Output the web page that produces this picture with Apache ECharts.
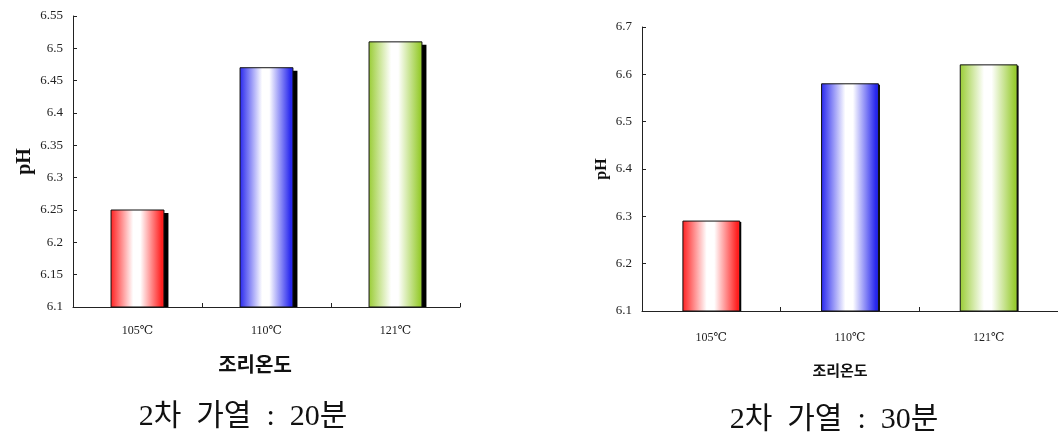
<!DOCTYPE html>
<html>
<head>
<meta charset="utf-8">
<script src="https://cdn.jsdelivr.net/npm/echarts@6/dist/echarts.min.js"></script>
<style>
  html, body { margin: 0; padding: 0; background: #fff; }
  #chart { width: 1058px; height: 436px; }
</style>
</head>
<body>
<div id="chart"></div>
<script>
// Cooking temperatures on the category axis
const categories = ['105℃', '110℃', '121℃'];

// pH after the second heating step
const ph20min = [6.25, 6.47, 6.51];
const ph30min = [6.29, 6.58, 6.62];

// Value-axis ranges for each panel
const axis20 = { min: 6.1, max: 6.55, interval: 0.05 };
const axis30 = { min: 6.1, max: 6.7, interval: 0.1 };

const panelTitles = ['2차  가열  :  20분', '2차  가열  :  30분'];
const xAxisName = '조리온도';
const yAxisName = 'pH';

const barColors = ['#ff1f1f', '#2626ee', '#99cc33'];

function gradient(c) {
  return new echarts.graphic.LinearGradient(0, 0, 1, 0, [
    { offset: 0, color: c },
    { offset: 0.42, color: '#ffffff' },
    { offset: 0.55, color: '#ffffff' },
    { offset: 0.95, color: c },
    { offset: 1, color: c }
  ]);
}

// Gradient bar with a hard black drop shadow on its right side
function makeRenderer(axisMin, shadowX, shadowY) {
  return function (params, api) {
    const idx = api.value(0);
    const top = api.coord([idx, api.value(1)]);
    const base = api.coord([idx, axisMin]);
    const bw = api.size([1, 0])[0] * 0.41;
    const x0 = top[0] - bw / 2;
    const h = base[1] - top[1];
    return {
      type: 'group',
      children: [
        {
          type: 'rect',
          shape: { x: x0 + shadowX, y: top[1] + shadowY, width: bw, height: h - shadowY },
          style: { fill: '#000' }
        },
        {
          type: 'rect',
          shape: { x: x0, y: top[1], width: bw, height: h },
          style: { fill: gradient(barColors[idx]), stroke: '#111', lineWidth: 1 }
        }
      ]
    };
  };
}

const serif = '"Liberation Serif", "DejaVu Serif", serif';
const koSerifish = '"Liberation Serif", "Noto Sans CJK KR", serif';
const axisLine = { show: true, lineStyle: { color: '#222', width: 1 } };
const tick = { show: true, inside: true, length: 4, lineStyle: { color: '#222' } };

const chart = echarts.init(document.getElementById('chart'), null, { renderer: 'canvas' });

chart.setOption({
  animation: false,
  backgroundColor: '#fff',
  title: [
    {
      text: panelTitles[0], left: 238, top: 397, textAlign: 'center',
      textStyle: { fontFamily: koSerifish, fontSize: 30, fontWeight: 'normal', color: '#111' }
    },
    {
      text: panelTitles[1], left: 829, top: 400, textAlign: 'center',
      textStyle: { fontFamily: koSerifish, fontSize: 30, fontWeight: 'normal', color: '#111' }
    },
    {
      text: xAxisName, left: 250, top: 349, textAlign: 'center',
      textStyle: { fontFamily: '"Noto Sans CJK KR", sans-serif', fontSize: 20, fontWeight: 'bold', color: '#111' }
    },
    {
      text: xAxisName, left: 835, top: 358, textAlign: 'center',
      textStyle: { fontFamily: '"Noto Sans CJK KR", sans-serif', fontSize: 15, fontWeight: 'bold', color: '#111' }
    }
  ],
  grid: [
    { left: 73, top: 16, width: 387, height: 291 },
    { left: 642, top: 27, width: 417, height: 284 }
  ],
  xAxis: [
    {
      gridIndex: 0, type: 'category', data: categories,
      axisLine, axisTick: tick,
      axisLabel: { fontFamily: serif, fontSize: 12, color: '#222', margin: 18 }
    },
    {
      gridIndex: 1, type: 'category', data: categories,
      axisLine, axisTick: tick,
      axisLabel: { fontFamily: serif, fontSize: 12, color: '#222', margin: 21 }
    }
  ],
  yAxis: [
    {
      gridIndex: 0, type: 'value', min: axis20.min, max: axis20.max, interval: axis20.interval,
      axisLine, splitLine: { show: false }, axisTick: tick,
      axisLabel: { fontFamily: serif, fontSize: 13, color: '#222', margin: 10,
        formatter: v => String(+v.toFixed(2)) },
      name: yAxisName, nameLocation: 'middle', nameGap: 38, nameRotate: 90,
      nameTextStyle: { fontFamily: serif, fontSize: 20, fontWeight: 'bold', color: '#111' }
    },
    {
      gridIndex: 1, type: 'value', min: axis30.min, max: axis30.max, interval: axis30.interval,
      axisLine, splitLine: { show: false }, axisTick: tick,
      axisLabel: { fontFamily: serif, fontSize: 13, color: '#222', margin: 10,
        formatter: v => String(+v.toFixed(1)) },
      name: yAxisName, nameLocation: 'middle', nameGap: 32, nameRotate: 90,
      nameTextStyle: { fontFamily: serif, fontSize: 16, fontWeight: 'bold', color: '#111' }
    }
  ],
  series: [
    {
      type: 'custom', xAxisIndex: 0, yAxisIndex: 0,
      renderItem: makeRenderer(axis20.min, 4.5, 3),
      encode: { x: 0, y: 1 },
      data: ph20min.map((v, i) => [i, v])
    },
    {
      type: 'custom', xAxisIndex: 1, yAxisIndex: 1,
      renderItem: makeRenderer(axis30.min, 1.5, 1),
      encode: { x: 0, y: 1 },
      data: ph30min.map((v, i) => [i, v])
    }
  ]
});
</script>
</body>
</html>
